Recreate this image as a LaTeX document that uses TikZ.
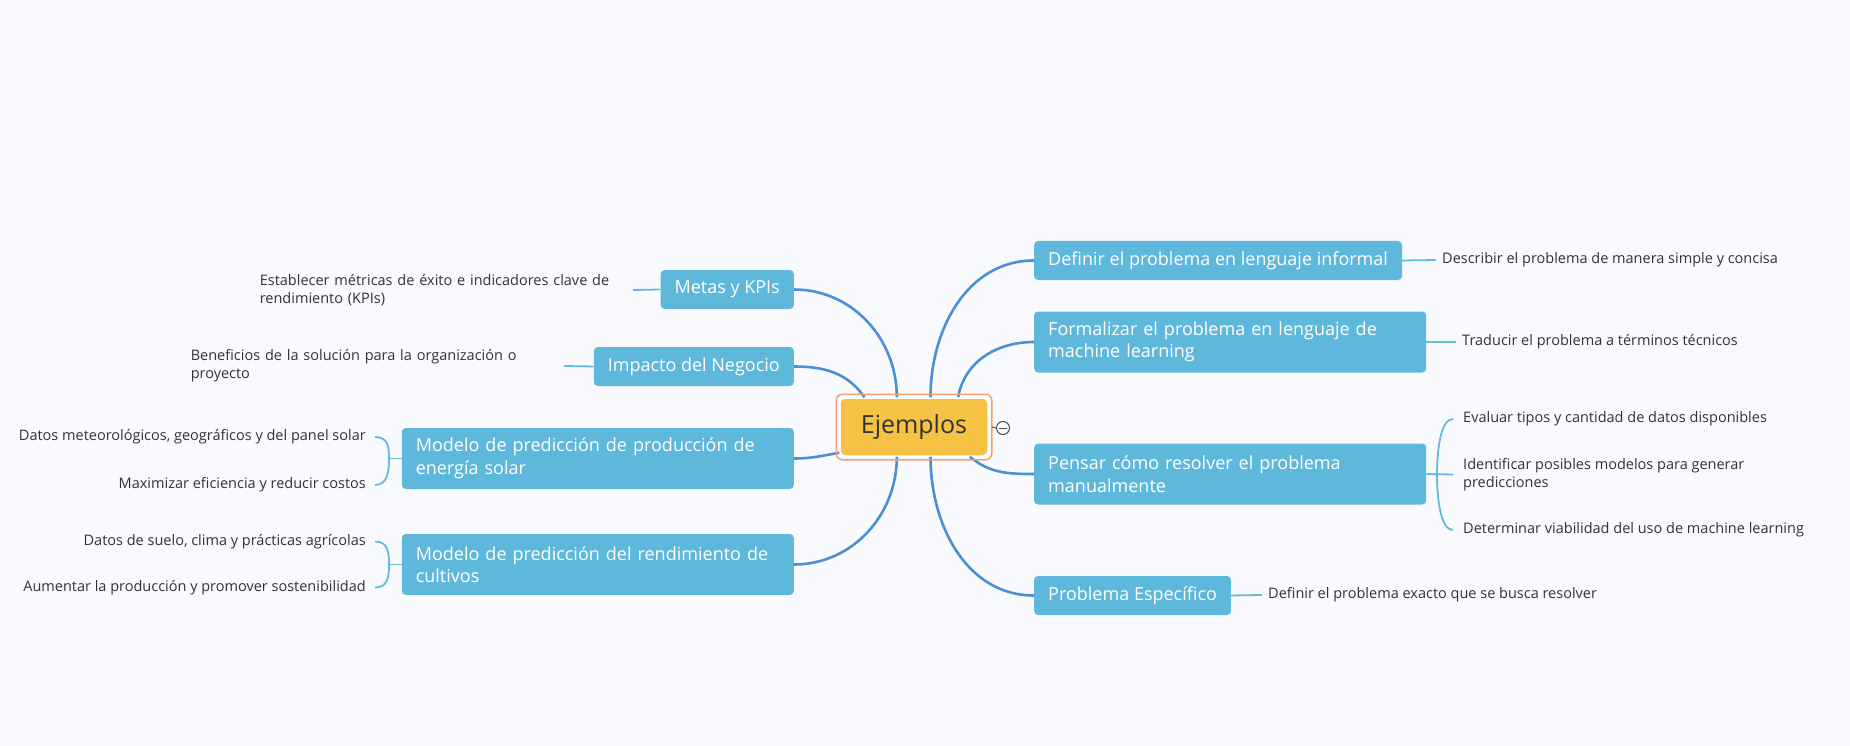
\documentclass[tikz,border=0pt]{standalone}
\usepackage{fontspec}
\setmainfont{Open Sans}
\usepackage{xcolor}
\usepackage{tikz}

\definecolor{bgpaper}{RGB}{248,250,254}
\definecolor{topicblue}{RGB}{94,184,220}
\definecolor{linkblue}{RGB}{74,144,210}
\definecolor{twigblue}{RGB}{100,186,222}
\definecolor{rootfill}{RGB}{246,194,68}
\definecolor{rootring}{RGB}{244,160,110}
\definecolor{inkgray}{RGB}{51,51,51}

\begin{document}
\begin{tikzpicture}[x=1pt,y=-1pt,
	topic/.style={fill=topicblue, text=white, rounded corners=4pt, inner xsep=14pt, minimum height=39pt, font=\fontsize{18}{22.5}\selectfont},
	widetopic/.style={topic, minimum height=61pt, text width=364pt, align=left},
	note/.style={text=inkgray, inner xsep=6pt, inner ysep=2pt, font=\fontsize{14.5}{17.7}\selectfont},
	link/.style={linkblue, line width=2.6pt},
	twig/.style={twigblue, line width=1.8pt}]

		\fill[bgpaper] (0,0) rectangle (1850,746);
		\useasboundingbox (0,0) rectangle (1850,746);

		\node[fill=rootfill, draw=white, line width=1.5pt, rounded corners=5pt, minimum width=148pt, minimum height=58pt, text=inkgray, font=\fontsize{25}{30}\selectfont] (root) at (914,427) {Ejemplos};

		% right side
		\node[topic, anchor=west] (def) at (1034,260.5) {Definir el problema en lenguaje informal};
		\node[widetopic, anchor=west] (form) at (1034,342) {Formalizar el problema en lenguaje de\\machine learning};
		\node[widetopic, anchor=west] (pens) at (1034,474) {Pensar cómo resolver el problema\\manualmente};
		\node[topic, anchor=west] (prob) at (1034,595.5) {Problema Específico};

		\node[note, anchor=west] (desc) at (1436,260) {Describir el problema de manera simple y concisa};
		\node[note, anchor=west] (trad) at (1456,342) {Traducir el problema a términos técnicos};
		\node[note, anchor=west, inner xsep=10pt] (eval) at (1453,419) {Evaluar tipos y cantidad de datos disponibles};
		\node[note, anchor=west, inner xsep=10pt, align=left] (ident) at (1453,474.5) {Identificar posibles modelos para generar\\predicciones};
		\node[note, anchor=west, inner xsep=10pt] (det) at (1453,530) {Determinar viabilidad del uso de machine learning};
		\node[note, anchor=west] (exact) at (1262,595) {Definir el problema exacto que se busca resolver};

		% left side
		\node[topic, anchor=east] (metas) at (794,289.5) {Metas y KPIs};
		\node[topic, anchor=east] (imp) at (794,366.5) {Impacto del Negocio};
		\node[widetopic, anchor=east] (solar) at (794,458.5) {Modelo de predicción de producción de\\energía solar};
		\node[widetopic, anchor=east] (cult) at (794,564.5) {Modelo de predicción del rendimiento de\\cultivos};

		\node[note, anchor=east, text width=367pt, align=left] (estab) at (633,290) {Establecer métricas de éxito e indicadores clave de\\rendimiento (KPIs)};
		\node[note, anchor=east, text width=367pt, align=left] (benef) at (564,366) {Beneficios de la solución para la organización o\\proyecto};
		\node[note, anchor=east, inner xsep=9pt] (sol1) at (375,437) {Datos meteorológicos, geográficos y del panel solar};
		\node[note, anchor=east, inner xsep=9pt] (sol2) at (375,485) {Maximizar eficiencia y reducir costos};
		\node[note, anchor=east, inner xsep=9pt] (cul1) at (375,541.5) {Datos de suelo, clima y prácticas agrícolas};
		\node[note, anchor=east, inner xsep=9pt] (cul2) at (375,587.5) {Aumentar la producción y promover sostenibilidad};

		\coordinate (solbr) at (389,458.5);
		\coordinate (culbr) at (389,564.5);
		\coordinate (pensbr) at (1437,474.5);

		\draw[link] (root.61) to[out=90, in=180] (def.west);
		\draw[link] (root.34) to[out=80, in=180] (form.west);
		\draw[link] (root.-28) to[out=-40, in=180] (pens.west);
		\draw[link] (root.-61) to[out=-90, in=180] (prob.west);
		\draw[link] (root.120) to[out=90, in=0] (metas.east);
		\draw[link] (root.149) to[out=125, in=0] (imp.east);
		\draw[link] (root.-161) to[out=190, in=0] (solar.east);
		\draw[link] (root.-120) to[out=-90, in=0] (cult.east);

		\draw[twig] (def.east) -- (desc.west);
		\draw[twig] (form.east) -- (trad.west);
		\draw[twig] (pens.east) -- (ident.west);
		\draw[twig] (eval.west) .. controls +(-13,0) and +(0,-22) .. (pensbr) .. controls +(0,22) and +(-13,0) .. (det.west);
		\draw[twig] (prob.east) -- (exact.west);
		\draw[twig] (metas.west) -- (estab.east);
		\draw[twig] (imp.west) -- (benef.east);
		\draw[twig] (solar.west) -- (solbr);
		\draw[twig] (sol1.east) .. controls +(13,0) and +(0,-12) .. (solbr) .. controls +(0,12) and +(13,0) .. (sol2.east);
		\draw[twig] (cult.west) -- (culbr);
		\draw[twig] (cul1.east) .. controls +(13,0) and +(0,-12) .. (culbr) .. controls +(0,12) and +(13,0) .. (cul2.east);

		\draw[rootring, line width=1.5pt, rounded corners=6pt] ([xshift=-3pt,yshift=-3pt]root.south west) rectangle ([xshift=3pt,yshift=3pt]root.north east);
		\node[circle, draw=black!70, fill=white, line width=1pt, minimum size=13pt, inner sep=0pt] (fold) at (1003,428) {};
		\draw[black!70, line width=1pt] ([xshift=3pt]root.east) -- (fold.west);
		\draw[black!70, line width=1pt] (fold.center) +(-4,0) -- +(4,0);
	\end{tikzpicture}
\end{document}
